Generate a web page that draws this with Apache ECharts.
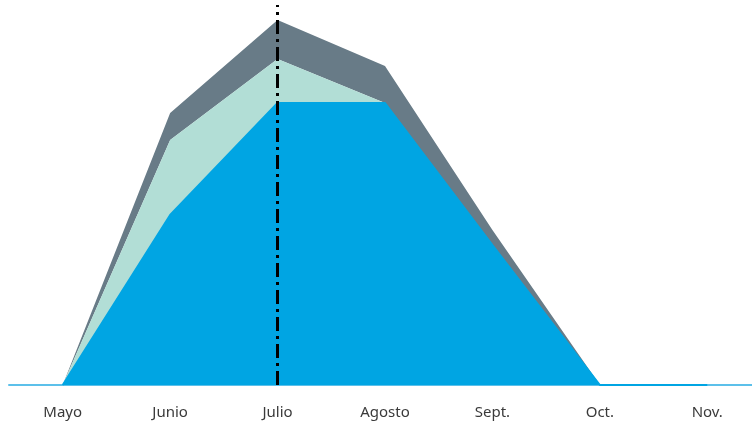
<!DOCTYPE html>
<html>
<head>
<meta charset="utf-8">
<script src="https://cdn.jsdelivr.net/npm/echarts@6/dist/echarts.min.js"></script>
<style>html,body{margin:0;padding:0;background:#fff;overflow:hidden;}#c{width:761px;height:424px;}</style>
</head>
<body>
<div id="c"></div>
<script>
const categories = ['Mayo', 'Junio', 'Julio', 'Agosto', 'Sept.', 'Oct.', 'Nov.'];
const baseValues = [0, 170, 282, 282, 140, 0, 0];
const midValues = [0, 75, 44, 0, 0, 0, 0];
const topValues = [0, 27, 39, 37, 15, 0, 0];
const markCategory = 'Julio';

const chart = echarts.init(document.getElementById('c'));
chart.setOption({
  animation: false,
  grid: { left: 9, right: 0, top: 5, bottom: 39 },
  xAxis: {
    type: 'category',
    data: categories,
    boundaryGap: true,
    axisLine: { lineStyle: { color: '#5cc0ea', width: 2 } },
    axisTick: { show: false },
    axisLabel: { color: '#3a3a3a', fontSize: 15, fontFamily: 'Noto Sans', margin: 20 }
  },
  yAxis: {
    type: 'value', min: 0, max: 380,
    show: false, splitLine: { show: false }
  },
  series: [
    {
      name: 'base', type: 'line', stack: 'a', data: baseValues, symbol: 'none',
      lineStyle: { width: 2, color: '#00a5e3' },
      areaStyle: { color: '#00a5e3', opacity: 1 },
      markLine: {
        symbol: 'none', silent: true,
        label: { show: false },
        lineStyle: { color: '#000', width: 3, type: [14, 5, 3, 5] },
        data: [{ xAxis: markCategory }]
      },
      z: 3
    },
    {
      name: 'mid', type: 'line', stack: 'a', data: midValues, symbol: 'none',
      lineStyle: { width: 0 },
      areaStyle: { color: '#b2ded6', opacity: 1 }, z: 2
    },
    {
      name: 'top', type: 'line', stack: 'a', data: topValues, symbol: 'none',
      lineStyle: { width: 0 },
      areaStyle: { color: '#687b87', opacity: 1 }, z: 1
    }
  ]
});
</script>
</body>
</html>
